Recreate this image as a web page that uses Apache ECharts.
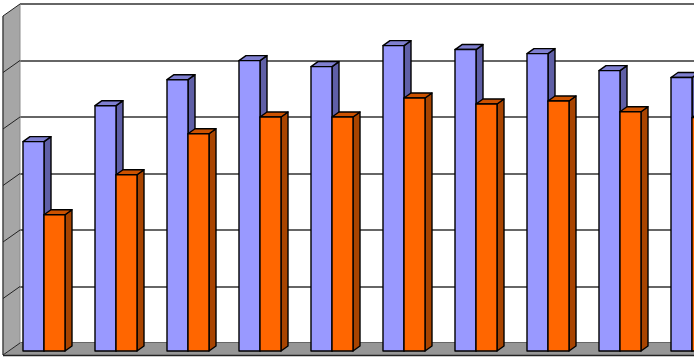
<!DOCTYPE html>
<html>
<head>
<meta charset="utf-8">
<style>html,body{margin:0;padding:0;background:#fff}#c{width:694px;height:358px}</style>
<script src="https://cdn.jsdelivr.net/npm/echarts@6/dist/echarts.min.js"></script>
</head>
<body>
<div id="c"></div>
<script>
const categories = ['1','2','3','4','5','6','7','8','9','10'];
const seriesA = [3.705,4.342,4.802,5.140,5.034,5.405,5.335,5.264,4.963,4.840];
const seriesB = [2.412,3.120,3.845,4.142,4.142,4.478,4.372,4.425,4.235,4.130];
const yTicks = [0,1,2,3,4,5,6];

const WALL_DX = 17, WALL_DY = 12;
const FRONT_DX = -12, FRONT_DY = 8;
const BAR_W = 21, DEPTH_X = 7, DEPTH_Y = 5;

function poly(points, fill, stroke, lw, z2) {
  return {type:'polygon', z2:z2||0, shape:{points}, style:{fill, stroke:stroke||'none', lineWidth:lw||0}};
}
function line(x1,y1,x2,y2,stroke,lw,z2){
  return {type:'line', z2:z2||0, shape:{x1,y1,x2,y2}, style:{stroke, lineWidth:lw}};
}

function renderRoom(params, api) {
  const g = params.coordSys;
  const L = g.x, T = g.y, B = g.y + g.height, R = g.x + g.width;
  const kids = [];
  kids.push(poly([[L,T],[L,B],[L-WALL_DX,B+WALL_DY],[L-WALL_DX,T+WALL_DY]],'#a6a6a6'));
  kids.push(poly([[L,B],[R,B],[R-WALL_DX,B+WALL_DY],[L-WALL_DX,B+WALL_DY]],'#969696'));
  kids.push(line(L,T,L,B,'#8c8c8c',1));
  kids.push(line(L-WALL_DX,T+WALL_DY,L-WALL_DX,B+WALL_DY,'#444',1.5));
  kids.push(line(L-WALL_DX,B+WALL_DY+0.5,R,B+WALL_DY+0.5,'#222',1.5));
  yTicks.forEach(t => {
    const y = api.coord([0,t])[1];
    kids.push(line(L,y,L-WALL_DX,y+WALL_DY,'#222',1));
  });
  return {type:'group', children:kids};
}

function makeBar(front, top, side, slot) {
  return function(params, api) {
    const cat = api.value(0), val = api.value(1);
    const c = api.coord([cat,val]), b = api.coord([cat,0]);
    const x0 = c[0] + FRONT_DX + slot*BAR_W, x1 = x0 + BAR_W;
    const y0 = c[1] + FRONT_DY, y1 = b[1] + FRONT_DY;
    const edge = {stroke:'#000', lineWidth:1.4, lineJoin:'round'};
    return {type:'group', children:[
      {type:'polygon', shape:{points:[[x1,y0],[x1+DEPTH_X,y0-DEPTH_Y],[x1+DEPTH_X,y1-DEPTH_Y],[x1,y1]]}, style:Object.assign({fill:side},edge)},
      {type:'polygon', shape:{points:[[x0,y0],[x0+DEPTH_X,y0-DEPTH_Y],[x1+DEPTH_X,y0-DEPTH_Y],[x1,y0]]}, style:Object.assign({fill:top},edge)},
      {type:'rect', shape:{x:x0,y:y0,width:BAR_W,height:y1-y0}, style:Object.assign({fill:front},edge)}
    ]};
  };
}

const chart = echarts.init(document.getElementById('c'), null, {renderer:'canvas'});
chart.setOption({
  animation:false,
  backgroundColor:'#fff',
  grid:{left:20, top:4, width:720, height:339, containLabel:false, outerBoundsMode:'none'},
  xAxis:{type:'category', data:categories, axisLine:{show:false}, axisTick:{show:false}, axisLabel:{show:false}, splitLine:{show:false}},
  yAxis:{type:'value', min:0, max:6, interval:1, axisLine:{show:false}, axisTick:{show:false}, axisLabel:{show:false},
    splitLine:{show:true, lineStyle:{color:'#333', width:1.5}}},
  series:[
    {type:'custom', name:'room', data:[[0,0]], renderItem:renderRoom, clip:false, silent:true, z:1},
    {type:'custom', name:'A', data:categories.map((c,i)=>[i,seriesA[i]]), renderItem:makeBar('#9999ff','#7f7fd0','#5f5fa6',-1), clip:false, encode:{x:0,y:1}, z:2},
    {type:'custom', name:'B', data:categories.map((c,i)=>[i,seriesB[i]]), renderItem:makeBar('#ff6600','#cc5200','#a84400',0), clip:false, encode:{x:0,y:1}, z:3}
  ]
});
</script>
</body>
</html>
